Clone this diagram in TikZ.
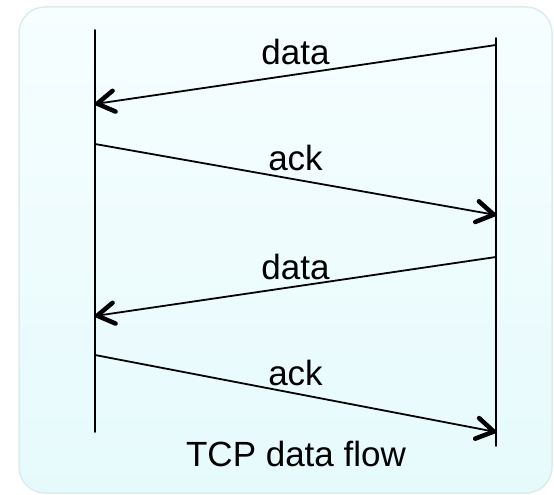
\documentclass[tikz,border=0pt]{standalone}
\usepackage{fontspec}
\setmainfont{Liberation Sans}
\usetikzlibrary{arrows.meta}
\definecolor{boxtop}{HTML}{F6FEFF}
\definecolor{boxbottom}{HTML}{E6FAFC}
\definecolor{boxline}{HTML}{DCECEE}
\begin{document}
\begin{tikzpicture}[line cap=round,line join=round,>={Straight Barb[length=17pt,width=21pt,line width=4.5pt,round]},x=1pt,y=-1pt]
\useasboundingbox (0,0) rectangle (554,495);
\shade[rounded corners=26pt,top color=boxtop,bottom color=boxbottom,draw=boxline,line width=1.5pt] (19,7) rectangle (552,493);
% lifelines
\coordinate (lefttop) at (95,30);
\coordinate (leftbot) at (95,432);
\coordinate (righttop) at (496,38);
\coordinate (rightbot) at (496,446);
\draw[line width=1.8pt] (lefttop) -- (leftbot);
\draw[line width=1.8pt] (righttop) -- (rightbot);
% message ends
\coordinate (data1s) at (496,45);
\coordinate (data1r) at (95,104);
\coordinate (ack1s) at (95,144);
\coordinate (ack1r) at (496,215);
\coordinate (data2s) at (496,257);
\coordinate (data2r) at (95,316);
\coordinate (ack2s) at (95,355);
\coordinate (ack2r) at (496,432);
\begin{scope}[every node/.style={font=\fontsize{35}{42}\selectfont,inner sep=0pt}]
\draw[->,line width=1.8pt] (data1s) -- node[above=9pt] {data} (data1r);
\draw[->,line width=1.8pt] (ack1s) -- node[above=8pt] {ack} (ack1r);
\draw[->,line width=1.8pt] (data2s) -- node[above=6pt] {data} (data2r);
\draw[->,line width=1.8pt] (ack2s) -- node[above=7pt] {ack} (ack2r);
\node[anchor=base] (caption) at (296,466) {TCP data flow};
\end{scope}
\end{tikzpicture}
\end{document}
